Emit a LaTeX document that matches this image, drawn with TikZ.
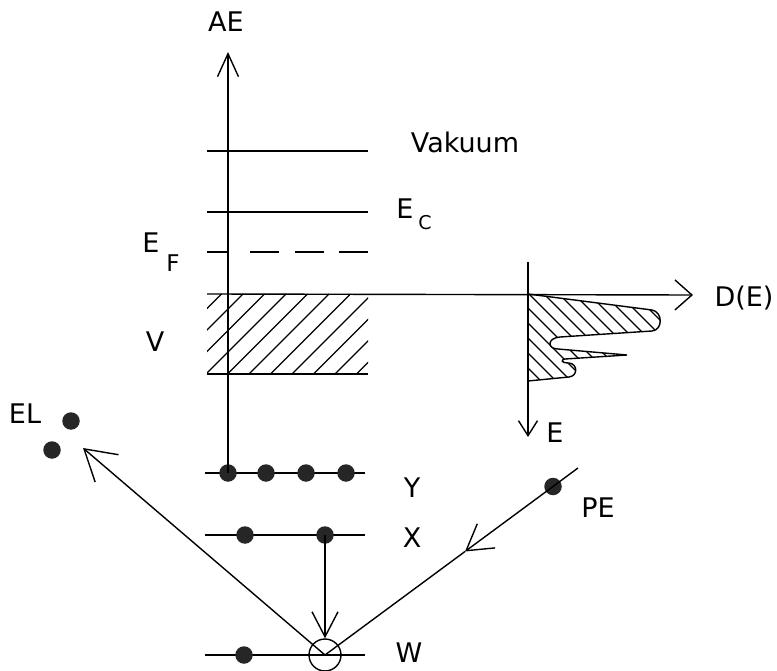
\documentclass[tikz,border=0pt]{standalone}
\usepackage{fontspec}
\setmainfont{DejaVu Sans}
\usetikzlibrary{arrows.meta}
\begin{document}
\begin{tikzpicture}[x=1pt,y=-1pt,line width=1.4pt,
  lbl/.style={anchor=base,inner sep=0pt,font=\fontsize{27}{31}\selectfont},
  sub/.style={anchor=base,inner sep=0pt,font=\fontsize{19}{23}\selectfont},
  dot/.style={circle,fill=black!85,inner sep=0pt,minimum size=17.5pt},
  hole/.style={circle,draw,inner sep=0pt,minimum size=32pt},
  barbAE/.style={-{Straight Barb[length=23pt,width=21pt]}},
  barbD/.style={-{Straight Barb[length=17pt,width=30pt]}},
  barbE/.style={-{Straight Barb[length=15pt,width=19pt]}},
  barbX/.style={-{Straight Barb[length=25pt,width=26pt]}},
  barbPE/.style={-{Straight Barb[length=25pt,width=30pt]}},
  barbEL/.style={-{Straight Barb[length=30pt,width=36pt]}}]
\useasboundingbox (0,0) rectangle (777,671);

% level lines
\draw (207,151) -- (368,151);
\draw (207,212) -- (368,212);
\draw[dash pattern=on 22pt off 21pt on 29pt off 16pt on 29pt off 15pt on 29pt] (207,252) -- (368,252);

% valence band
\coordinate (dTip) at (693,295);
\draw[barbD] (207,294) -- (dTip);
\draw (207,374) -- (368,374);
\begin{scope}
  \clip (207,294) rectangle (368,374);
  \foreach \x in {120,141.5,...,400} \draw (\x,374) -- (\x+80,294);
\end{scope}

% core levels
\draw (205,473) -- (365,473);
\draw (205,535) -- (365,535);
\draw (205,655) -- (365,655);

% density of states
\coordinate (dosTop) at (528,262);
\coordinate (dosTip) at (528,437);
\draw[barbE] (dosTop) -- (dosTip);
\def\dospath{(528,294) -- (652,310) .. controls (663,312) and (663,330) .. (652,331) -- (560,337) .. controls (547,338) and (547,349) .. (558,349) -- (627,355) -- (565,359) .. controls (560,360) and (562,363) .. (568,363) -- (569,363) .. controls (578,364) and (578,376) .. (569,377) -- (528,381) -- cycle}
\begin{scope}
  \clip \dospath;
  \foreach \x in {380,395,...,680} \draw[line width=1.1pt] (\x,280) -- (\x+120,400);
\end{scope}
\draw \dospath;

% dots
\node[dot] (y1) at (228,473) {};
\node[dot] (y2) at (266,473) {};
\node[dot] (y3) at (306,473) {};
\node[dot] (y4) at (346,473) {};
\node[dot] (x1) at (245,535) {};
\node[dot] (x2) at (325,535) {};
\node[dot] (w1) at (244,655) {};
\node[hole] (wc) at (325,655) {};
\node[dot] (pe) at (553,486.5) {};
\node[dot] (el1) at (71,421) {};
\node[dot] (el2) at (52,450) {};

% energy axis
\coordinate (aeTip) at (228,52);
\draw[barbAE] (y1.center) -- (aeTip);

% transitions
\draw[barbX] (x2.center) -- (wc.north);
\coordinate (peStart) at (578,468);
\coordinate (peTip) at (465,551.5);
\draw (peStart) -- (pe.center);
\draw[barbPE] (pe.center) -- (peTip);
\draw (peTip) -- (wc.center);
\coordinate (elTip) at (83,448);
\draw[barbEL] (wc.center) -- (elTip);

% labels
\node[lbl] (ae) at (226,32) {AE};
\node[lbl] (vak) at (465,153) {Vakuum};
\node[lbl] (ec) at (405,219) {E};
\node[sub] (ecs) at (425,230) {C};
\node[lbl] (ef) at (151,253) {E};
\node[sub,font=\fontsize{23}{27}\selectfont] (efs) at (173,272) {F};
\node[lbl] (v) at (155,352) {V};
\node[lbl] (de) at (744,307) {D(E)};
\node[lbl] (e) at (555,442) {E};
\node[lbl] (el) at (25,423) {EL};
\node[lbl] (ly) at (412,497) {Y};
\node[lbl] (lx) at (412,547) {X};
\node[lbl] (lw) at (409,662) {W};
\node[lbl] (lpe) at (598,517) {PE};
\end{tikzpicture}
\end{document}
